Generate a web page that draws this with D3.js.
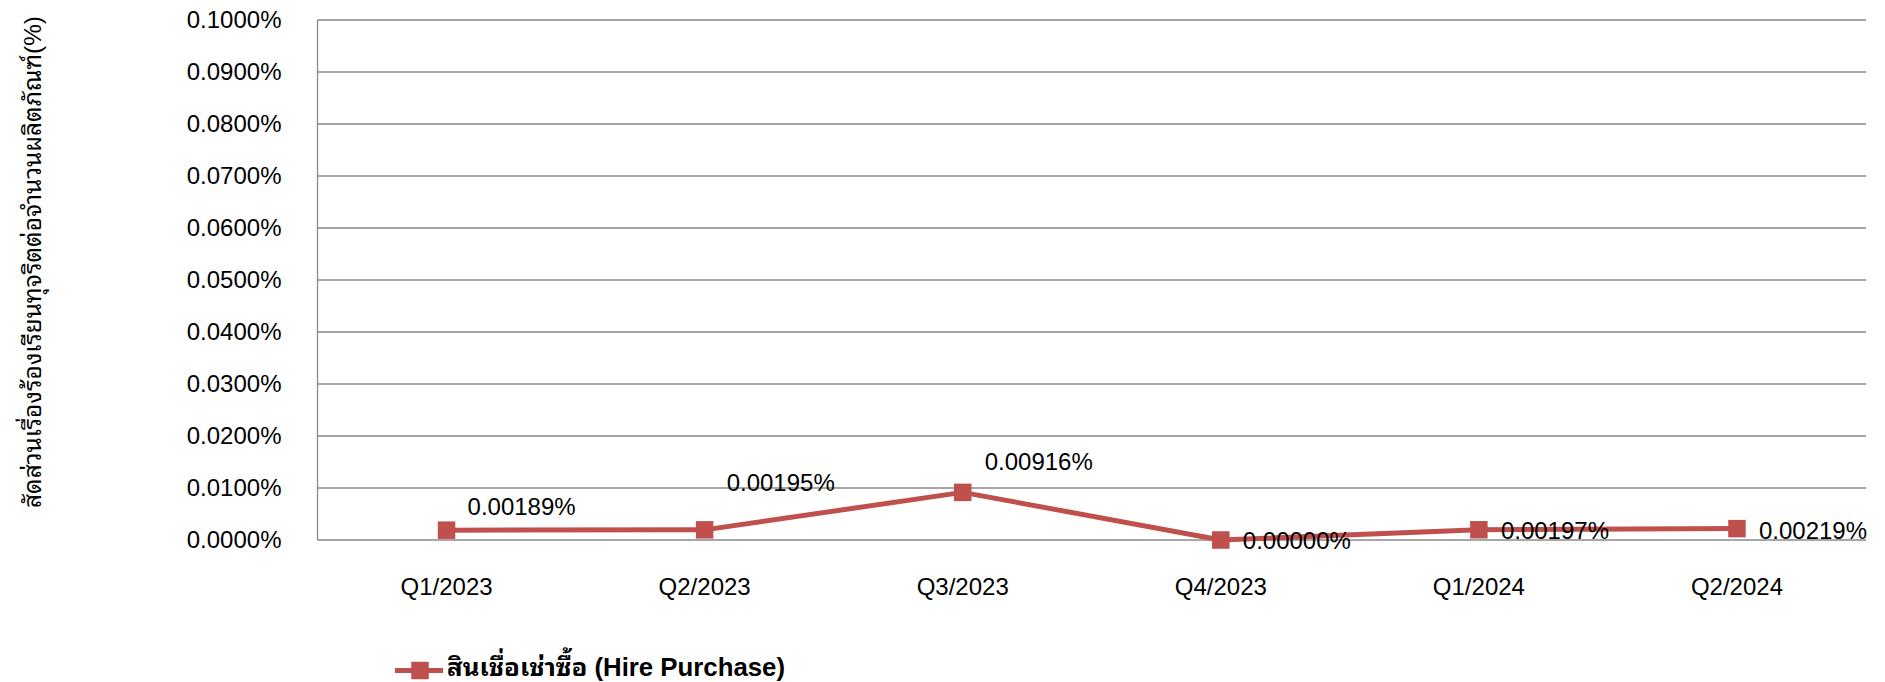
<!DOCTYPE html>
<html>
<head>
<meta charset="utf-8">
<script src="https://cdn.jsdelivr.net/npm/d3@7"></script>
<style>
  html, body { margin: 0; padding: 0; background: #fff; }
  svg { display: block; font-family: "Liberation Sans", Arial, "Noto Sans Thai Looped", "Noto Sans Thai", "Noto Sans", "DejaVu Sans", sans-serif; }
</style>
</head>
<body>
<svg id="chart" width="1885" height="682"></svg>
<script>
const categories = ["Q1/2023", "Q2/2023", "Q3/2023", "Q4/2023", "Q1/2024", "Q2/2024"];
const values = [0.00189, 0.00195, 0.00916, 0.00000, 0.00197, 0.00219];
const valueLabels = ["0.00189%", "0.00195%", "0.00916%", "0.00000%", "0.00197%", "0.00219%"];
const yTicks = [0, 0.01, 0.02, 0.03, 0.04, 0.05, 0.06, 0.07, 0.08, 0.09, 0.1];
const seriesName = "สินเชื่อเช่าซื้อ (Hire Purchase)";
const yTitle = "สัดส่วนเรื่องร้องเรียนทุจริตต่อจำนวนผลิตภัณฑ์(%)";

(function () {
const color = "#C0504D";
const gridColor = "#8a8a8a";
const svg = d3.select("#chart");

const pLeft = 317.5, pRight = 1866, pTop = 20, pBottom = 540;
const x = d3.scaleBand().domain(categories).range([pLeft, pRight]);
const cx = d => x(d) + x.bandwidth() / 2;
const y = d3.scaleLinear().domain([0, 0.1]).range([pBottom, pTop]);

// gridlines
svg.append("g").selectAll("line").data(yTicks).join("line")
  .attr("x1", pLeft).attr("x2", pRight)
  .attr("y1", d => y(d)).attr("y2", d => y(d))
  .attr("stroke", gridColor).attr("stroke-width", 1.3);

// left axis line
svg.append("line").attr("x1", pLeft).attr("x2", pLeft).attr("y1", pTop).attr("y2", pBottom)
  .attr("stroke", gridColor).attr("stroke-width", 1.3);

// y axis labels
const yAxis = svg.append("g").attr("transform", `translate(${pLeft},0)`)
  .call(d3.axisLeft(y).tickValues(yTicks).tickSize(0).tickPadding(36)
    .tickFormat(d => d3.format(".4f")(d) + "%"));
yAxis.select(".domain").remove();
yAxis.selectAll("text").attr("font-size", 24).attr("fill", "#000")
  .attr("font-family", "'Liberation Sans', Arial, sans-serif");

// x axis labels
const xAxis = svg.append("g").attr("transform", `translate(0,${pBottom})`)
  .call(d3.axisBottom(x).tickSize(0).tickPadding(38));
xAxis.select(".domain").remove();
xAxis.selectAll("text").attr("font-size", 24).attr("fill", "#000")
  .attr("font-family", "'Liberation Sans', Arial, sans-serif");

// y title
svg.append("text")
  .attr("transform", `translate(41,262) rotate(-90)`)
  .attr("text-anchor", "middle")
  .attr("font-size", 24).attr("fill", "#000")
  .attr("textLength", 492).attr("lengthAdjust", "spacingAndGlyphs")
  .text(yTitle);

// line
const data = categories.map((c, i) => ({c, v: values[i], label: valueLabels[i]}));
svg.append("path").datum(data)
  .attr("fill", "none").attr("stroke", color).attr("stroke-width", 5)
  .attr("stroke-linejoin", "round")
  .attr("d", d3.line().x(d => cx(d.c)).y(d => y(d.v)));

const ms = 17.5;
svg.append("g").selectAll("rect").data(data).join("rect")
  .attr("x", d => cx(d.c) - ms / 2).attr("y", d => y(d.v) - ms / 2)
  .attr("width", ms).attr("height", ms).attr("fill", color);

// data labels (offset from point: dx to label start, dy to baseline)
const labelOffsets = [[21, -15], [22, -39], [22, -22], [22, 9], [22, 9], [22, 10]];
svg.append("g").selectAll("text").data(data).join("text")
  .attr("x", (d, i) => cx(d.c) + labelOffsets[i][0])
  .attr("y", (d, i) => y(d.v) + labelOffsets[i][1])
  .attr("font-size", 24).attr("fill", "#000")
  .attr("font-family", "'Liberation Sans', Arial, sans-serif")
  .text(d => d.label);

// legend
const lg = svg.append("g").attr("transform", "translate(395,670.5)");
lg.append("line").attr("x1", 0).attr("x2", 48).attr("y1", 0).attr("y2", 0)
  .attr("stroke", color).attr("stroke-width", 5);
lg.append("rect").attr("x", 25 - ms / 2).attr("y", -ms / 2).attr("width", ms).attr("height", ms).attr("fill", color);
lg.append("text").attr("x", 52).attr("y", 5)
  .attr("font-size", 25).attr("font-weight", "bold").attr("fill", "#000")
  .attr("textLength", 338).attr("lengthAdjust", "spacingAndGlyphs")
  .text(seriesName);
})();
</script>
</body>
</html>
